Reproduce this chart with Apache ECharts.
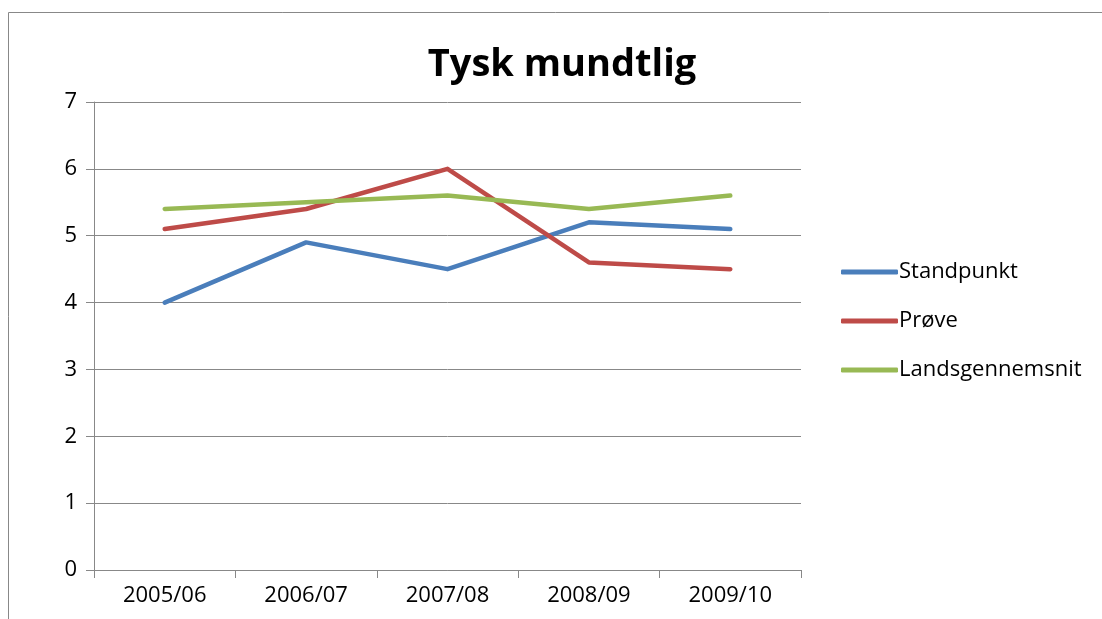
<!DOCTYPE html>
<html>
<head>
<meta charset="utf-8">
<script src="https://cdn.jsdelivr.net/npm/echarts@6/dist/echarts.min.js"></script>
<style>
  html, body { margin: 0; padding: 0; background: #fff; }
  #chartBox { width: 1102px; height: 619px; }
</style>
</head>
<body>
<div id="chartBox"></div>
<script>
  // data
  const years = ['2005/06', '2006/07', '2007/08', '2008/09', '2009/10']
  const standpunkt = [4.0, 4.9, 4.5, 5.2, 5.1]
  const proeve = [5.1, 5.4, 6.0, 4.6, 4.5]
  const landsgennemsnit = [5.4, 5.5, 5.6, 5.4, 5.6]
  const yTicks = [0, 1, 2, 3, 4, 5, 6, 7]

  const colors = ['#4A7EBB', '#BE4B48', '#98B954']
  const fontFam = '"Open Sans", "Liberation Sans", sans-serif'
  const chart = echarts.init(document.getElementById('chartBox'))

  const lineSeries = (name, data, i) => ({
    name: name,
    type: 'line',
    data: data,
    showSymbol: false,
    symbol: 'none',
    lineStyle: { width: 4.5, color: colors[i], cap: 'round', join: 'round' },
    itemStyle: { color: colors[i] }
  })

  let option = {
    animation: false,
    title: {
      text: 'Tysk mundtlig',
      left: 557,
      textAlign: 'center',
      top: 41,
      textStyle: { fontFamily: fontFam, fontSize: 38, fontWeight: 'bold', color: '#000' }
    },
    graphic: [
      {
        type: 'rect',
        silent: true,
        shape: { x: 8.5, y: 12.5, width: 1200, height: 700 },
        style: { fill: 'none', stroke: '#888', lineWidth: 1 }
      }
    ],
    legend: {
      orient: 'vertical',
      left: 836,
      top: 256,
      itemGap: 27,
      itemWidth: 57,
      itemHeight: 5,
      icon: 'roundRect',
      textStyle: { fontFamily: fontFam, fontSize: 22, color: '#000', padding: [0, 0, 0, -4] },
      data: ['Standpunkt', 'Prøve', 'Landsgennemsnit']
    },
    grid: { left: 94, right: 301, top: 102, bottom: 49 },
    xAxis: {
      type: 'category',
      data: years,
      boundaryGap: true,
      axisLine: { lineStyle: { color: '#888', width: 1 } },
      axisTick: { show: true, length: 8, inside: false, lineStyle: { color: '#888' } },
      axisLabel: { fontFamily: fontFam, fontSize: 22, color: '#000', margin: 15 }
    },
    yAxis: {
      type: 'value',
      min: yTicks[0],
      max: yTicks[yTicks.length - 1],
      interval: 1,
      axisLine: { show: true, lineStyle: { color: '#888', width: 1 } },
      axisTick: { show: true, length: 8, lineStyle: { color: '#888' } },
      axisLabel: { fontFamily: fontFam, fontSize: 22, color: '#000', margin: 17 },
      splitLine: { show: true, lineStyle: { color: '#888', width: 1 } }
    },
    series: [
      lineSeries('Standpunkt', standpunkt, 0),
      lineSeries('Prøve', proeve, 1),
      lineSeries('Landsgennemsnit', landsgennemsnit, 2)
    ]
  }
  option && chart.setOption(option)
</script>
</body>
</html>
